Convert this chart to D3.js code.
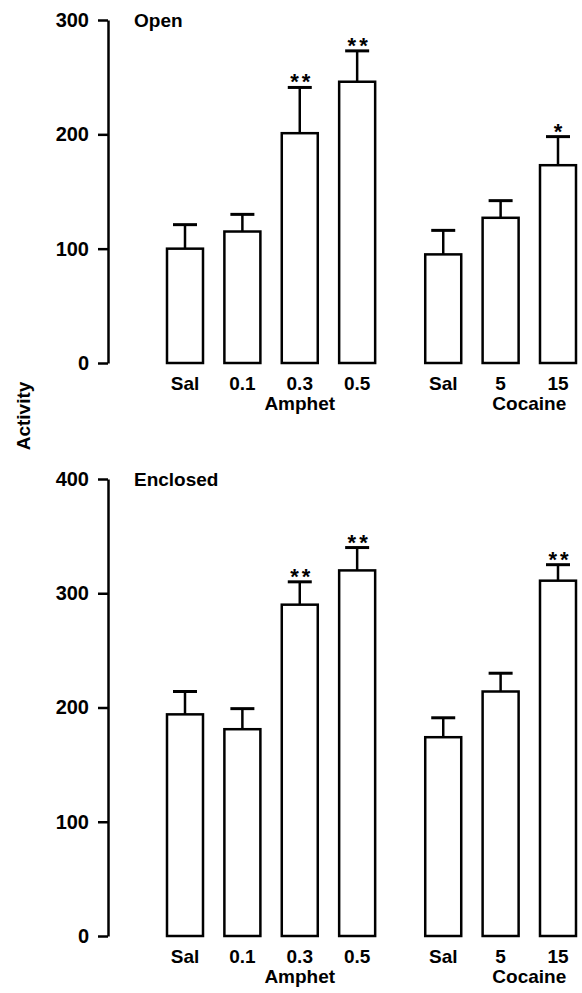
<!DOCTYPE html>
<html>
<head>
<meta charset="utf-8">
<script src="https://cdn.jsdelivr.net/npm/d3@7"></script>
<style>
  body { margin: 0; background: #fff; }
  text { font-family: "Liberation Sans", Arial, sans-serif; font-weight: bold; fill: #000; }
</style>
</head>
<body>
<div id="chart-area"></div>
<script>
// drug groups and doses
const groups = ["Amphet", "Cocaine"]
const doses = [["Sal", "0.1", "0.3", "0.5"], ["Sal", "5", "15"]]

// Open arm activity (mean, sem, stars)
const openMean = [[100, 115, 201, 246], [95, 127, 173]]
const openErr  = [[21, 15, 40, 27], [21, 15, 25]]
const openSig  = [["", "", "**", "**"], ["", "", "*"]]

// Enclosed arm activity
const enclMean = [[194, 181, 290, 320], [174, 214, 311]]
const enclErr  = [[20, 18, 20, 20], [17, 16, 14]]
const enclSig  = [["", "", "**", "**"], ["", "", "**"]]

const openTicks = [0, 100, 200, 300]
const enclTicks = [0, 100, 200, 300, 400]

const W = 582, H = 993
const BAR_W = 36
const FS = '19px'

const svg = d3.select('#chart-area')
    .append('svg')
    .attr('width', W)
    .attr('height', H)

// slot index: bars 0..3 for amphet, then a 1.5 gap to cocaine
const slot = (g, i) => i + g * 4.5
const x = d3.scaleLinear()
    .domain([0, 6.5])
    .range([185, 558])

function flatten(means, errs, sigs) {
    const out = []
    means.forEach((row, g) => row.forEach((v, i) => {
        out.push({ g, i, dose: doses[g][i], v, e: errs[g][i], s: sigs[g][i] })
    }))
    return out
}

function panel(title, means, errs, sigs, ticks, top, bottom) {
    const data = flatten(means, errs, sigs)
    const y = d3.scaleLinear()
        .domain([0, d3.max(ticks)])
        .range([bottom, top])

    const ax = svg.append('g')
        .attr('transform', 'translate(108, 0)')
        .call(d3.axisLeft(y).tickValues(ticks).tickSize(10).tickSizeOuter(0).tickPadding(9))
    ax.select('.domain').attr('stroke-width', 2.5)
    ax.selectAll('.tick line').attr('stroke-width', 2.5)
    ax.selectAll('.tick text')
        .style('font-size', '20px')
        .style('font-weight', 'bold')
        .style('font-family', '"Liberation Sans", Arial, sans-serif')

    svg.append('text')
        .attr('x', 134)
        .attr('y', top + 7)
        .style('font-size', FS)
        .text(title)

    const bars = svg.append('g')
    // error bars (upper only)
    bars.selectAll('line.err')
        .data(data)
        .enter()
        .append('line')
        .attr('x1', d => x(slot(d.g, d.i)))
        .attr('x2', d => x(slot(d.g, d.i)))
        .attr('y1', d => y(d.v))
        .attr('y2', d => y(d.v + d.e))
        .attr('stroke', '#000')
        .attr('stroke-width', 2.5)
    bars.selectAll('line.cap')
        .data(data)
        .enter()
        .append('line')
        .attr('x1', d => x(slot(d.g, d.i)) - 12)
        .attr('x2', d => x(slot(d.g, d.i)) + 12)
        .attr('y1', d => y(d.v + d.e))
        .attr('y2', d => y(d.v + d.e))
        .attr('stroke', '#000')
        .attr('stroke-width', 3)
    bars.selectAll('rect')
        .data(data)
        .enter()
        .append('rect')
        .attr('x', d => x(slot(d.g, d.i)) - BAR_W / 2)
        .attr('width', BAR_W)
        .attr('y', d => y(d.v))
        .attr('height', d => y(0) - y(d.v))
        .attr('fill', '#fff')
        .attr('stroke', '#000')
        .attr('stroke-width', 2.5)

    // significance stars
    bars.selectAll('text.sig')
        .data(data.filter(d => d.s))
        .enter()
        .append('text')
        .attr('x', d => x(slot(d.g, d.i)) + (d.s.length > 1 ? 2 : 0))
        .attr('y', d => y(d.v + d.e) + 2)
        .attr('text-anchor', 'middle')
        .style('font-size', '22px')
        .style('letter-spacing', d => d.s.length > 1 ? '3px' : '0px')
        .text(d => d.s)

    // dose labels
    bars.selectAll('text.dose')
        .data(data)
        .enter()
        .append('text')
        .attr('x', d => x(slot(d.g, d.i)))
        .attr('y', bottom + 27)
        .attr('text-anchor', 'middle')
        .style('font-size', FS)
        .text(d => d.dose)

    // group labels
    svg.selectAll(null)
        .data(groups)
        .enter()
        .append('text')
        .attr('x', (d, g) => x(g === 0 ? 2 : 6))
        .attr('y', bottom + 47)
        .attr('text-anchor', 'middle')
        .style('font-size', FS)
        .text(d => d)
}

panel('Open', openMean, openErr, openSig, openTicks, 20, 363)
panel('Enclosed', enclMean, enclErr, enclSig, enclTicks, 479, 936)

svg.append('text')
    .attr('transform', 'translate(30, 416) rotate(-90)')
    .attr('text-anchor', 'middle')
    .style('font-size', FS)
    .text('Activity')
</script>
</body>
</html>
